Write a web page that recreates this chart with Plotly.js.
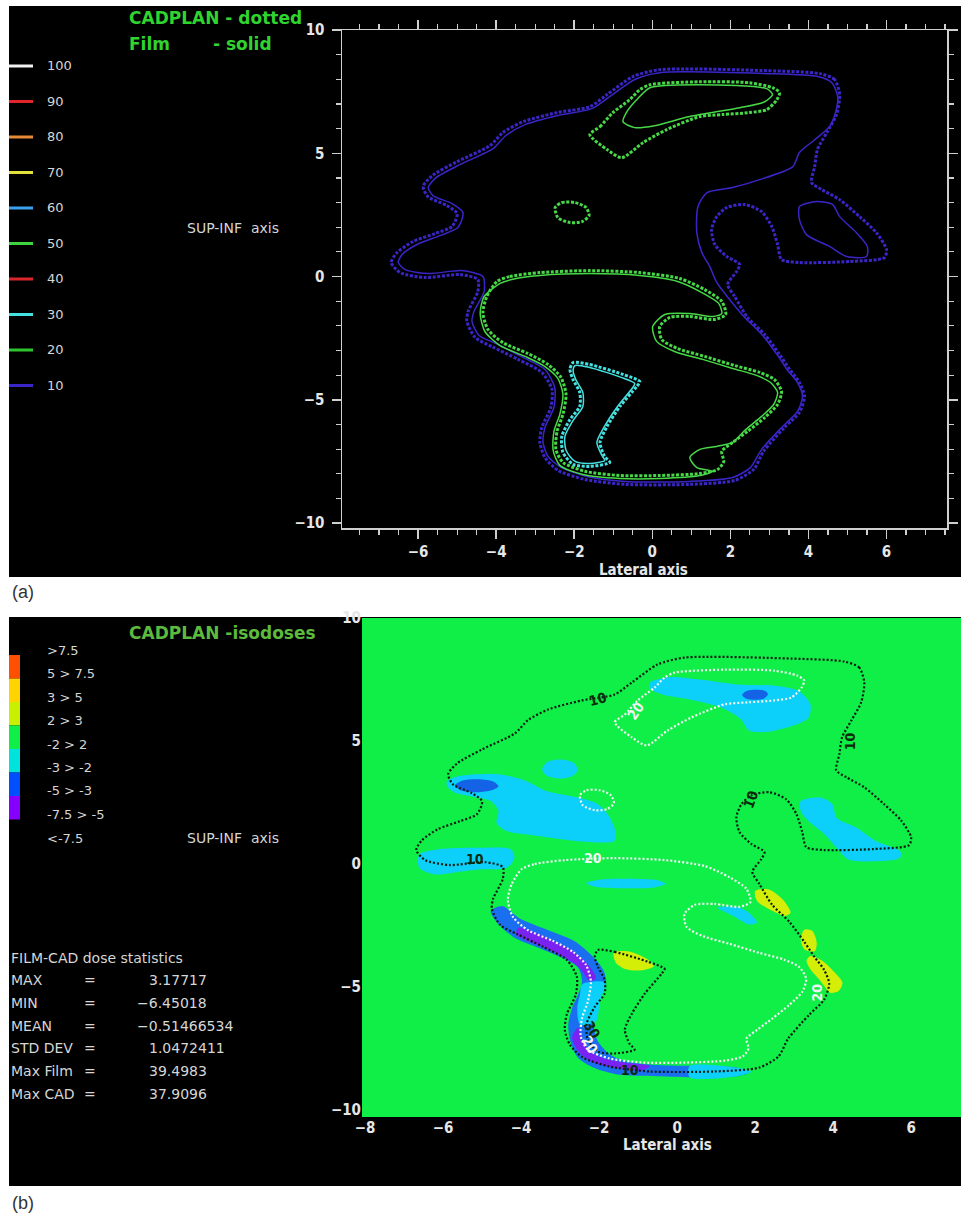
<!DOCTYPE html>
<html>
<head>
<meta charset="utf-8">
<title>CADPLAN / film isodose comparison</title>
<script src="https://cdn.plot.ly/plotly-3.0.1.min.js"></script>
<style>
  html, body { margin: 0; padding: 0; background: #ffffff; }
  #chart { width: 961px; height: 1216px; }
</style>
</head>
<body>
<div id="chart"></div>
<script>
// ---------------------------------------------------------------
// Isodose levels (% of max) and their line colours, panel (a)
// ---------------------------------------------------------------
const doseLevels = [100, 90, 80, 70, 60, 50, 40, 30, 20, 10];
const doseColors = ['#f2f2f2', '#e0262a', '#e58a3a', '#e2e23a', '#3aa0f0',
                    '#3fd43f', '#d8262a', '#45e0e0', '#2fc42f', '#3a26c8'];

// Dose-difference classes (FILM - CAD), panel (b)
const diffClasses = ['&gt;7.5', '5 &gt; 7.5', '3 &gt; 5', '2 &gt; 3', '-2 &gt; 2',
                     '-3 &gt; -2', '-5 &gt; -3', '-7.5 &gt; -5', '&lt;-7.5'];
const diffColors = ['#ff4f00', '#ffd400', '#c8f000', '#10ee48', '#00e2dc', '#0050ff', '#8600ff'];

// FILM-CAD dose statistics
const statNames = ['MAX', 'MIN', 'MEAN', 'STD DEV', 'Max Film', 'Max CAD'];
const statValues = [3.17717, -6.45018, -0.51466534, 1.0472411, 39.4983, 37.9096];

// Axis ticks (cm)
const latTicksA = [-6, -4, -2, 0, 2, 4, 6];
const latTicksB = [-8, -6, -4, -2, 0, 2, 4, 6];
const supTicks = [-10, -5, 0, 5, 10];

// ---------------------------------------------------------------
// Isodose contours, [lateral, sup-inf] in cm
// ---------------------------------------------------------------
// CADPLAN 10 %
const cad10 = [[4.80,7.38],[4.67,7.99],[4.29,8.23],[2.93,8.35],[0.19,8.39],[-0.50,8.11],[-1.16,7.38],
  [-1.60,6.89],[-2.44,6.65],[-3.31,6.28],[-3.83,5.84],[-4.16,5.31],[-5.00,4.66],[-5.64,4.09],
  [-5.87,3.65],[-5.75,3.24],[-5.26,2.88],[-5.00,2.55],[-5.13,2.03],[-5.57,1.74],[-6.13,1.42],
  [-6.54,0.97],[-6.69,0.57],[-6.46,0.16],[-5.82,-0.04],[-4.93,0.08],[-4.47,-0.12],[-4.47,-0.61],
  [-4.72,-1.42],[-4.75,-1.82],[-4.54,-2.47],[-4.11,-2.84],[-3.44,-3.36],[-2.83,-3.89],[-2.57,-4.58],
  [-2.60,-5.31],[-2.83,-6.12],[-2.88,-6.73],[-2.75,-7.34],[-2.42,-7.86],[-1.73,-8.23],[-0.70,-8.43],
  [0.96,-8.43],[2.11,-8.27],[2.60,-7.82],[2.85,-7.09],[3.39,-6.12],[3.77,-5.51],[3.90,-4.86],
  [3.77,-4.30],[3.52,-3.77],[3.26,-3.16],[2.88,-2.35],[2.44,-1.66],[2.11,-0.81],[1.93,-0.32],
  [2.16,0.20],[2.24,0.49],[1.91,0.81],[1.60,1.30],[1.52,1.91],[1.65,2.43],[1.91,2.80],[2.37,2.92],
  [2.80,2.63],[3.06,2.03],[3.21,1.30],[3.31,0.69],[3.77,0.57],[5.05,0.61],[5.95,0.77],[6.00,1.09],
  [5.74,1.78],[5.31,2.43],[4.80,3.12],[4.34,3.53],[4.08,3.81],[4.16,4.46],[4.23,5.15],[4.47,5.84],
  [4.72,6.57]];
// Film 10 %
const film10 = [[4.75,7.30],[4.60,7.86],[4.24,8.11],[2.93,8.23],[0.19,8.27],[-0.45,7.99],[-1.09,7.30],
  [-1.55,6.81],[-2.42,6.53],[-3.26,6.16],[-3.75,5.72],[-4.08,5.19],[-4.93,4.54],[-5.54,4.01],
  [-5.74,3.61],[-5.62,3.28],[-5.13,2.96],[-4.85,2.59],[-4.98,1.99],[-5.44,1.66],[-6.03,1.30],
  [-6.41,0.89],[-6.51,0.57],[-6.33,0.28],[-5.74,0.12],[-4.88,0.24],[-4.34,0.00],[-4.31,-0.61],
  [-4.57,-1.42],[-4.62,-1.82],[-4.44,-2.39],[-4.00,-2.72],[-3.36,-3.24],[-2.75,-3.77],[-2.50,-4.50],
  [-2.52,-5.31],[-2.75,-6.12],[-2.80,-6.73],[-2.67,-7.30],[-2.34,-7.74],[-1.68,-8.11],[-0.70,-8.31],
  [0.96,-8.31],[2.06,-8.15],[2.52,-7.74],[2.80,-7.01],[3.34,-6.08],[3.72,-5.47],[3.85,-4.86],
  [3.72,-4.30],[3.47,-3.81],[3.21,-3.20],[2.83,-2.39],[2.37,-1.66],[1.98,-0.93],[1.65,-0.24],
  [1.47,0.41],[1.27,0.97],[1.14,1.78],[1.17,2.84],[1.40,3.40],[2.06,3.61],[2.75,3.93],[3.60,4.46],
  [3.77,5.03],[4.16,5.55],[4.54,6.08],[4.70,6.69]];
const film10Island = [[3.77,2.84],[4.21,3.04],[4.62,2.92],[4.80,2.43],[5.23,1.78],[5.51,1.22],
  [5.49,0.81],[4.98,0.81],[4.54,1.22],[3.95,1.70],[3.77,2.31]];

// CADPLAN 20 %
const cad20Top = [[-1.60,5.76],[-1.34,6.08],[-1.01,6.65],[-0.58,7.17],[-0.32,7.58],[-0.06,7.78],
  [1.22,7.90],[2.49,7.86],[3.08,7.66],[3.26,7.46],[3.19,7.17],[2.93,6.77],[2.49,6.65],[1.80,6.57],
  [1.22,6.49],[0.37,5.96],[-0.24,5.43],[-0.78,4.82],[-1.16,5.15]];
const cad20Islet = [[-2.49,2.80],[-2.32,3.00],[-1.98,3.00],[-1.70,2.80],[-1.62,2.47],[-1.80,2.23],
  [-2.11,2.19],[-2.42,2.39]];
const cad20Low = [[-3.98,-0.20],[-3.65,0.00],[-2.88,0.16],[-1.60,0.24],[-0.32,0.16],[0.70,-0.08],
  [1.34,-0.53],[1.78,-1.01],[1.88,-1.54],[1.60,-1.74],[0.96,-1.62],[0.45,-1.66],[0.19,-2.03],
  [0.24,-2.55],[0.65,-2.92],[1.34,-3.24],[2.11,-3.61],[2.75,-3.89],[3.13,-4.18],[3.31,-4.66],
  [3.21,-5.19],[2.88,-5.72],[2.44,-6.28],[2.06,-6.73],[1.78,-7.09],[1.83,-7.50],[1.68,-7.82],
  [1.22,-7.99],[0.19,-8.07],[-0.83,-8.07],[-1.73,-7.90],[-2.29,-7.54],[-2.47,-7.01],[-2.44,-6.28],
  [-2.29,-5.59],[-2.21,-4.78],[-2.34,-4.09],[-2.67,-3.57],[-3.19,-3.12],[-3.83,-2.68],[-4.21,-2.15],
  [-4.34,-1.46],[-4.24,-0.81]];
// Film 20 %
const film20Top = [[-0.75,6.28],[-0.45,6.04],[0.06,6.12],[0.96,6.49],[2.24,6.85],[2.88,7.09],
  [3.08,7.38],[2.93,7.62],[1.22,7.78],[-0.06,7.66],[-0.40,7.17],[-0.65,6.69]];
const film20Low = [[-3.90,-0.28],[-3.60,-0.12],[-2.88,0.04],[-1.60,0.12],[-0.32,0.04],[0.65,-0.20],
  [1.27,-0.65],[1.70,-1.09],[1.78,-1.50],[1.55,-1.62],[0.96,-1.50],[0.32,-1.54],[0.01,-2.03],
  [0.11,-2.63],[0.57,-3.04],[1.29,-3.36],[2.06,-3.73],[2.67,-4.01],[3.03,-4.30],[3.21,-4.70],
  [3.11,-5.19],[2.80,-5.67],[2.37,-6.24],[2.06,-6.73],[1.65,-6.89],[1.22,-7.01],[0.96,-7.34],
  [1.14,-7.75],[1.55,-7.90],[1.22,-8.07],[0.19,-8.19],[-0.83,-8.19],[-1.78,-8.03],[-2.37,-7.66],
  [-2.54,-7.05],[-2.52,-6.28],[-2.37,-5.59],[-2.29,-4.78],[-2.42,-4.13],[-2.75,-3.65],[-3.26,-3.24],
  [-3.90,-2.80],[-4.29,-2.23],[-4.41,-1.50],[-4.31,-0.81]];

// CADPLAN / Film 30 %
const cad30 = [[-2.03,-3.49],[-1.60,-3.57],[-0.75,-3.97],[-0.32,-4.26],[-0.40,-4.46],[-0.83,-5.27],
  [-1.16,-6.08],[-1.34,-6.73],[-1.22,-7.30],[-1.09,-7.54],[-1.60,-7.70],[-2.03,-7.62],[-2.29,-7.13],
  [-2.32,-6.49],[-2.11,-5.80],[-1.86,-5.27],[-1.86,-4.70],[-2.03,-4.18],[-2.11,-3.77]];
const film30 = [[-1.98,-3.61],[-1.60,-3.69],[-0.80,-4.09],[-0.45,-4.34],[-0.50,-4.50],[-0.91,-5.31],
  [-1.24,-6.12],[-1.42,-6.73],[-1.29,-7.26],[-1.22,-7.46],[-1.60,-7.58],[-1.98,-7.50],[-2.21,-7.05],
  [-2.24,-6.49],[-2.03,-5.84],[-1.78,-5.27],[-1.78,-4.70],[-1.96,-4.18],[-2.03,-3.81]];

// ---------------------------------------------------------------
// Dose-difference regions, panel (b)
// ---------------------------------------------------------------
const diffCyan = [
  [[-0.70,7.37],[-0.19,7.60],[0.52,7.51],[1.54,7.30],[2.56,7.24],[3.12,7.03],[3.42,6.49],[3.37,5.95],
   [3.07,5.68],[2.35,5.38],[1.84,5.43],[1.64,5.88],[1.13,6.36],[0.32,6.69],[-0.40,6.90],[-0.70,7.14]],
  [[-3.46,3.85],[-3.33,4.15],[-3.00,4.25],[-2.65,4.12],[-2.55,3.80],[-2.72,3.55],[-3.05,3.48],[-3.35,3.60]],
  [[-5.90,3.37],[-5.59,3.58],[-4.58,3.65],[-3.86,3.37],[-3.35,2.97],[-2.54,2.70],[-2.03,2.43],[-1.72,1.88],
   [-1.57,1.21],[-1.62,0.93],[-2.54,0.93],[-3.56,1.14],[-4.37,1.34],[-4.63,1.68],[-4.58,2.15],[-4.78,2.56],
   [-5.29,2.76],[-5.70,2.90],[-5.90,3.17]],
  [[-6.61,0.39],[-6.10,0.60],[-5.09,0.66],[-4.27,0.60],[-4.17,0.26],[-4.37,-0.15],[-5.09,-0.22],
   [-5.59,-0.31],[-6.21,-0.42],[-6.61,-0.15]],
  [[3.17,2.56],[3.68,2.70],[3.98,2.43],[4.09,1.88],[4.60,1.48],[5.11,0.93],[5.72,0.53],[5.72,0.26],
   [5.21,0.12],[4.39,0.19],[4.09,0.66],[3.78,1.21],[3.37,1.75],[3.17,2.15]],
  [[-2.33,-0.78],[-2.00,-0.64],[-1.30,-0.60],[-0.50,-0.66],[-0.30,-0.80],[-0.60,-0.95],[-1.30,-0.98],[-2.10,-0.92]],
  [[1.03,-1.77],[1.54,-1.75],[1.84,-1.98],[2.05,-2.38],[1.84,-2.45],[1.44,-2.11]]
];
const diffBlueSpots = [
  [[1.67,6.87],[1.78,7.03],[2.00,7.08],[2.25,7.04],[2.33,6.90],[2.22,6.72],[2.00,6.68],[1.78,6.72]],
  [[-5.70,3.20],[-5.50,3.40],[-5.10,3.45],[-4.70,3.35],[-4.58,3.15],[-4.80,2.98],[-5.20,2.92],[-5.55,3.00]]
];
const diffBlueBand = [[-4.78,-1.91],[-4.58,-2.45],[-4.17,-2.99],[-3.56,-3.40],[-2.95,-3.81],[-2.54,-4.21],
  [-2.44,-4.76],[-2.54,-5.30],[-2.69,-5.84],[-2.79,-6.52],[-2.74,-7.20],[-2.54,-7.87],[-2.13,-8.28],
  [-1.52,-8.55],[-0.50,-8.62],[0.52,-8.66],[1.54,-8.62],[1.84,-8.48],[1.54,-8.28],[0.52,-8.21],
  [-0.50,-8.17],[-1.31,-8.01],[-1.72,-7.74],[-2.03,-7.20],[-2.13,-6.65],[-2.08,-5.98],[-1.98,-5.43],
  [-1.82,-4.89],[-1.88,-4.35],[-2.13,-3.81],[-2.64,-3.13],[-3.35,-2.66],[-4.07,-2.18],[-4.47,-1.71]];
const diffBandCyan = [
  [[-2.44,-4.89],[-1.84,-4.82],[-1.98,-5.57],[-2.08,-6.38],[-2.49,-6.52],[-2.56,-5.84],[-2.49,-5.30]],
  [[0.32,-8.21],[1.54,-8.28],[1.90,-8.44],[1.54,-8.62],[0.32,-8.66]]
];
const diffPurple = [
  [[-4.07,-2.59],[-3.35,-2.99],[-2.74,-3.47],[-2.33,-4.01],[-2.08,-4.62],[-2.23,-4.76],[-2.49,-4.24],
   [-2.89,-3.78],[-3.51,-3.33],[-4.12,-2.86]],
  [[-2.54,-6.65],[-2.38,-7.33],[-2.03,-7.80],[-1.31,-8.08],[-0.70,-8.21],[-0.91,-8.39],[-1.62,-8.28],
   [-2.23,-8.01],[-2.54,-7.60],[-2.69,-7.06]]
];
const diffYellow = [
  [[-1.62,-3.60],[-1.21,-3.56],[-0.75,-3.88],[-0.60,-4.15],[-0.91,-4.32],[-1.31,-4.28],[-1.57,-4.01]],
  [[2.00,-1.10],[2.35,-1.03],[2.71,-1.44],[2.91,-1.98],[2.76,-2.11],[2.46,-1.91],[2.05,-1.50]],
  [[3.27,-2.66],[3.47,-2.72],[3.58,-3.20],[3.53,-3.54],[3.27,-3.47],[3.17,-3.06]],
  [[3.42,-3.74],[3.73,-3.94],[4.09,-4.49],[4.24,-4.82],[4.14,-5.16],[3.93,-5.23],[3.68,-4.76],[3.42,-4.28],[3.32,-3.94]]
];

// Contour level labels on the CADPLAN isodoses, panel (b)
const isoLabels = [
  {text: '10', x: -2.03, y: 6.69, angle: -15, tone: 'dark'},
  {text: '20', x: -1.06, y: 6.22, angle: -55, tone: 'light'},
  {text: '10', x: -5.19, y: 0.19, angle: 0, tone: 'dark'},
  {text: '20', x: -2.16, y: 0.26, angle: 0, tone: 'light'},
  {text: '10', x: 1.90, y: 2.63, angle: -70, tone: 'dark'},
  {text: '10', x: 4.44, y: 5.00, angle: -90, tone: 'dark'},
  {text: '10', x: -1.21, y: -8.35, angle: 0, tone: 'dark'},
  {text: '30', x: -2.18, y: -6.75, angle: 60, tone: 'dark'},
  {text: '20', x: -2.23, y: -7.35, angle: 60, tone: 'light'},
  {text: '20', x: 3.58, y: -5.23, angle: -90, tone: 'light'}
];

// ---------------------------------------------------------------
// Page geometry helpers (pixel -> paper fraction)
// ---------------------------------------------------------------
const W = 961, H = 1216;
const px = v => v / W;
const py = v => 1 - v / H;

const NARROW = "'DejaVu Sans Condensed', 'Liberation Sans Narrow', 'Liberation Sans', sans-serif";
const PLAIN = "'DejaVu Sans', 'Liberation Sans', sans-serif";
const AX = '#cfcfcf';
const tickFont = {family: NARROW, size: 15, color: '#e6e6e6', weight: 700};
const axisTitleFont = {family: NARROW, size: 15, color: '#e6e6e6', weight: 700};
const thinFont = size => ({family: PLAIN, size: size, color: '#d6d6d6'});

function ring(pts) {
  const c = pts.concat([pts[0]]);
  return {x: c.map(p => p[0]), y: c.map(p => p[1])};
}
function isoLine(pts, color, width, dash, xa, ya) {
  const r = ring(pts);
  return {type: 'scatter', mode: 'lines', x: r.x, y: r.y, xaxis: xa, yaxis: ya,
          line: {color: color, width: width, dash: dash, shape: 'spline', smoothing: 0.7},
          hoverinfo: 'skip', showlegend: false};
}
function region(pts, color) {
  const r = ring(pts);
  return {type: 'scatter', mode: 'lines', x: r.x, y: r.y, xaxis: 'x2', yaxis: 'y2',
          fill: 'toself', fillcolor: color, line: {width: 0, shape: 'spline', smoothing: 0.8},
          hoverinfo: 'skip', showlegend: false};
}

const blue10 = doseColors[9], green20 = '#46d846', cyan30 = doseColors[7];
const DOT_A = '3px,1.6px', DOT_B = '2px,2px';

const traces = [];
// ---- panel (a): film solid, CADPLAN dotted
traces.push(isoLine(film10, blue10, 1.5, 'solid', 'x', 'y'));
traces.push(isoLine(film10Island, blue10, 1.5, 'solid', 'x', 'y'));
traces.push(isoLine(cad10, blue10, 3, DOT_A, 'x', 'y'));
traces.push(isoLine(film20Top, green20, 1.5, 'solid', 'x', 'y'));
traces.push(isoLine(film20Low, green20, 1.5, 'solid', 'x', 'y'));
traces.push(isoLine(cad20Top, green20, 3, DOT_A, 'x', 'y'));
traces.push(isoLine(cad20Islet, green20, 3, DOT_A, 'x', 'y'));
traces.push(isoLine(cad20Low, green20, 3, DOT_A, 'x', 'y'));
traces.push(isoLine(film30, cyan30, 1.5, 'solid', 'x', 'y'));
traces.push(isoLine(cad30, cyan30, 3, DOT_A, 'x', 'y'));

// ---- panel (b): difference map + CADPLAN isodoses
const fillCyan = '#0ccffa', fillBlue = '#1a6ef0', fillSpot = '#1462e6', fillPurple = '#7a22f2', fillYellow = '#d4ee08';
diffCyan.forEach(p => traces.push(region(p, fillCyan)));
diffBlueSpots.forEach(p => traces.push(region(p, fillSpot)));
traces.push(region(diffBlueBand, fillBlue));
diffBandCyan.forEach(p => traces.push(region(p, fillCyan)));
diffPurple.forEach(p => traces.push(region(p, fillPurple)));
diffYellow.forEach(p => traces.push(region(p, fillYellow)));
traces.push(isoLine(cad10, '#0c1c0c', 2.2, DOT_B, 'x2', 'y2'));
traces.push(isoLine(cad30, '#0c1c0c', 2.2, DOT_B, 'x2', 'y2'));
[cad20Top, cad20Islet, cad20Low].forEach(p => traces.push(isoLine(p, '#f4f4f4', 2.2, DOT_B, 'x2', 'y2')));

// ---------------------------------------------------------------
// Shapes: black panels, green map background, legend keys
// ---------------------------------------------------------------
const shapes = [
  {type: 'rect', xref: 'paper', yref: 'paper', x0: px(9), x1: 1, y0: py(577), y1: py(6),
   fillcolor: '#000', line: {width: 0}, layer: 'below'},
  {type: 'rect', xref: 'paper', yref: 'paper', x0: px(9), x1: 1, y0: py(1186), y1: py(617),
   fillcolor: '#000', line: {width: 0}, layer: 'below'},
  {type: 'rect', xref: 'x2 domain', yref: 'y2 domain', x0: 0, x1: 1, y0: 0, y1: 1,
   fillcolor: diffColors[3], line: {width: 0}, layer: 'below'}
];
doseLevels.forEach((lv, i) => {
  const yy = py(66 + i * 35.5);
  shapes.push({type: 'line', xref: 'paper', yref: 'paper', x0: px(9), x1: px(33), y0: yy, y1: yy,
               line: {color: doseColors[i], width: 3}});
});
diffColors.forEach((c, i) => {
  shapes.push({type: 'rect', xref: 'paper', yref: 'paper', x0: px(9), x1: px(20),
               y0: py(655 + (i + 1) * 23.5), y1: py(655 + i * 23.5),
               fillcolor: c, line: {width: 0}});
});

// ---------------------------------------------------------------
// Annotations
// ---------------------------------------------------------------
function note(text, x, y, font, extra) {
  return Object.assign({text: text, xref: 'paper', yref: 'paper', x: px(x), y: py(y),
    xanchor: 'left', yanchor: 'middle', showarrow: false, font: font}, extra || {});
}
const titleFont = c => ({family: PLAIN, size: 17, color: c, weight: 700});
const ann = [];
// panel (a)
ann.push(note('CADPLAN - dotted', 127, 18, titleFont('#2fd42f')));
ann.push(note('Film', 127, 44, titleFont('#2fd42f')));
ann.push(note('- solid', 211, 44, titleFont('#2fd42f')));
doseLevels.forEach((lv, i) => ann.push(note(String(lv), 45, 66 + i * 35.5, thinFont(13))));
ann.push(note('SUP-INF\u00a0\u00a0axis', 185, 228, thinFont(14)));
ann.push(note('Lateral axis', 643, 570, axisTitleFont, {xanchor: 'center'}));
ann.push(note('(a)', 10, 592, {family: "'Liberation Sans', sans-serif", size: 18, color: '#333'}));
// panel (b)
ann.push(note('CADPLAN -isodoses', 127, 633, titleFont('#5cba3c')));
diffClasses.forEach((t, i) => ann.push(note(t, 45, 650 + i * 23.5, thinFont(13))));
ann.push(note('SUP-INF\u00a0\u00a0axis', 185, 838, thinFont(14)));
ann.push(note('FILM-CAD dose statistics', 9, 958, thinFont(14)));
statNames.forEach((n, i) => {
  const yy = 980 + i * 22.8;
  const v = statValues[i];
  ann.push(note(n, 9, yy, thinFont(14)));
  ann.push(note('=', 82, yy, thinFont(14)));
  ann.push(note(String(v).replace('-', '\u2212'), v < 0 ? 135 : 147, yy, thinFont(14)));
});
ann.push(note('Lateral axis', 667, 1145, axisTitleFont, {xanchor: 'center'}));
ann.push(note('(b)', 10, 1203, {family: "'Liberation Sans', sans-serif", size: 18, color: '#333'}));
// contour level labels
isoLabels.forEach(l => ann.push({text: l.text, xref: 'x2', yref: 'y2', x: l.x, y: l.y, showarrow: false,
  textangle: l.angle, font: {family: NARROW, size: 14, weight: 700, color: l.tone === 'dark' ? '#0b2a0b' : '#f2f2f2'}}));

// ---------------------------------------------------------------
// Layout
// ---------------------------------------------------------------
const axisA = {
  showgrid: false, zeroline: false, showline: true, linecolor: AX, linewidth: 1.5, mirror: 'ticks',
  ticks: 'outside', ticklen: 9, tickwidth: 1.5, tickcolor: AX, tickfont: tickFont
};
const layout = {
  width: W, height: H, autosize: false,
  margin: {l: 0, r: 0, t: 0, b: 0},
  paper_bgcolor: '#ffffff', plot_bgcolor: 'rgba(0,0,0,0)',
  showlegend: false,
  xaxis: Object.assign({}, axisA, {domain: [px(342), px(947)], anchor: 'y', range: [-7.95, 7.55],
    tickmode: 'array', tickvals: latTicksA,
    minor: {dtick: 0.5, tick0: 0, ticks: 'outside', ticklen: 5, tickwidth: 1.2, tickcolor: AX}}),
  yaxis: Object.assign({}, axisA, {domain: [py(528), py(30)], anchor: 'x', range: [-10.2, 10],
    tickmode: 'array', tickvals: supTicks, ticklabelstandoff: 4,
    minor: {dtick: 1, tick0: 0, ticks: 'outside', ticklen: 5, tickwidth: 1.2, tickcolor: AX}}),
  xaxis2: {domain: [px(362), 1], anchor: 'y2', range: [-8.08, 7.28], showgrid: false, zeroline: false,
    showline: false, ticks: '', tickmode: 'array', tickvals: latTicksB, tickfont: tickFont},
  yaxis2: {domain: [py(1117), py(618)], anchor: 'x2', range: [-10.28, 10], showgrid: false, zeroline: false,
    showline: false, ticks: '', tickmode: 'array', tickvals: supTicks, tickfont: tickFont},
  shapes: shapes,
  annotations: ann
};

Plotly.newPlot('chart', traces, layout, {staticPlot: true, displayModeBar: false});
</script>
</body>
</html>
